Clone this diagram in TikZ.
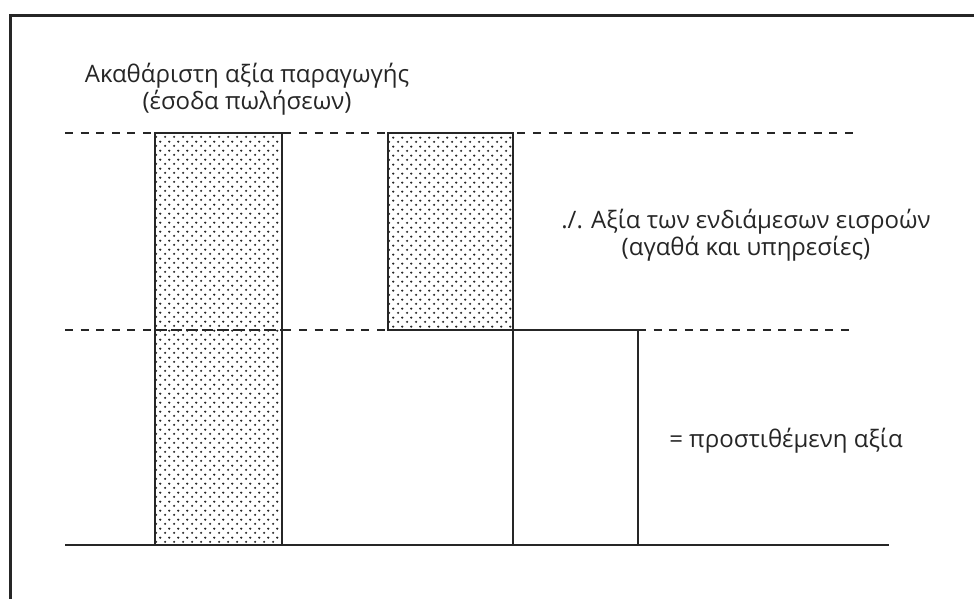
\documentclass[tikz,border=0pt]{standalone}
\usepackage{fontspec}
\setmainfont{Open Sans}
\usetikzlibrary{patterns}
\pgfdeclarepatternformonly{bardots}{\pgfpointorigin}{\pgfpoint{8.6pt}{9.2pt}}{\pgfpoint{8.6pt}{9.2pt}}{%
  \pgfpathcircle{\pgfpoint{2.15pt}{2.3pt}}{1.25pt}%
  \pgfpathcircle{\pgfpoint{6.45pt}{6.9pt}}{1.25pt}%
  \pgfusepath{fill}}
\tikzset{
  frameline/.style={line width=3pt, black!85},
  guide/.style={line width=1.7pt, black!85, dash pattern=on 8pt off 7.6pt},
  barline/.style={line width=1.8pt, black!85},
  dotted bar/.style={barline, pattern=bardots, pattern color=black!85},
  lbl/.style={font=\fontsize{24}{27}\selectfont, text=black!85, align=center, inner sep=0pt}
}
\begin{document}
\begin{tikzpicture}[x=1pt,y=-1pt]
\useasboundingbox (0,0) rectangle (974,599);
% frame
\draw[frameline] (10,599) -- (10,16) -- (974,16);
% dashed guides
\coordinate (gu1) at (65,133);
\coordinate (gu2) at (853,133);
\coordinate (gl1) at (65,330);
\coordinate (gl2) at (853,330);
\draw[guide] (gu1) -- (gu2);
\draw[guide] (gl1) -- (388,330);
\draw[guide] (638,330) -- (gl2);
% bars
\fill[white] (388,133) rectangle (513,330);
\draw[dotted bar] (155,133) rectangle (282,545);
\draw[dotted bar] (388,133) rectangle (513,330);
\draw[guide] (155,330) -- (282,330);
\draw[barline] (388,330) -- (638,330) -- (638,545);
\draw[barline] (513,330) -- (513,545);
% baseline
\coordinate (b1) at (65,545);
\coordinate (b2) at (889,545);
\draw[barline] (b1) -- (b2);
% labels
\node[lbl] (gross) at (247,89) {Ακαθάριστη αξία παραγωγής\\(έσοδα πωλήσεων)};
\node[lbl] (inter) at (746,235) {./. Αξία των ενδιάμεσων εισροών\\(αγαθά και υπηρεσίες)};
\node[lbl] (added) at (786,441) {= προστιθέμενη αξία};
\end{tikzpicture}
\end{document}
